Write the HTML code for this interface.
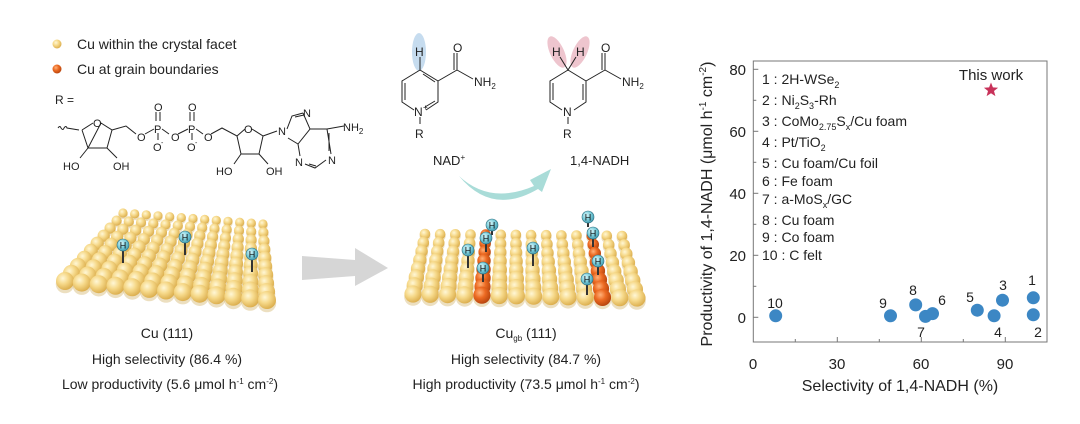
<!DOCTYPE html>
<html><head><meta charset="utf-8"><style>
html,body{margin:0;padding:0;background:#fff;}
svg{display:block;font-family:"Liberation Sans",sans-serif;}
</style></head><body>
<svg id="s" width="1080" height="424" viewBox="0 0 1080 424" xmlns="http://www.w3.org/2000/svg">
<defs>
<radialGradient id="gy" cx="0.38" cy="0.35" r="0.7">
<stop offset="0" stop-color="#fff7d6"/><stop offset="0.45" stop-color="#f6d98a"/><stop offset="1" stop-color="#d9aa48"/></radialGradient>
<radialGradient id="go" cx="0.38" cy="0.35" r="0.7">
<stop offset="0" stop-color="#ffb27a"/><stop offset="0.45" stop-color="#ec6a22"/><stop offset="1" stop-color="#b2410c"/></radialGradient>
<radialGradient id="gh" cx="0.38" cy="0.35" r="0.7">
<stop offset="0" stop-color="#d8f6fa"/><stop offset="0.5" stop-color="#7fcfdc"/><stop offset="1" stop-color="#3f9bb0"/></radialGradient>
</defs>

<circle cx="57" cy="44" r="4.5" fill="url(#gy)"/>
<circle cx="57" cy="69" r="4.5" fill="url(#go)"/>
<text x="77" y="49" font-size="14" fill="#222">Cu within the crystal facet</text>
<text x="77" y="74" font-size="14" fill="#222">Cu at grain boundaries</text>
<text x="55" y="104" font-size="12" fill="#222">R =</text>

<g stroke="#222" stroke-width="1" fill="none">
<path d="M58,128 q2,-3 3,0 q2,3 3,0 q2,-3 3,0 l12,2"/>
<path d="M82,130 L93,123 M101,123 L112,130 L107,148 L88,148 Z M82,130 L88,148"/>
<path d="M88,148 L80,158 M107,148 L117,158"/>
<path d="M112,130 L126,126 L136,134"/>
<path d="M145,134 L154,129 M162,129 L169,134 M178,134 L188,129 M196,129 L203,134"/>
<path d="M156,112 V121 M160,112 V121 M190,112 V121 M194,112 V121 M158,133 V140 M192,133 V140"/>
<path d="M211,134 L222,128 L237,136 L245,129 M252,129 L263,136 L259,154 L241,154 L237,136"/>
<path d="M241,154 L234,164 M259,154 L268,164"/>
<path d="M263,136 L277,131"/>
<path d="M287,129 L292,116 L303,113 M288,138 L298,144 L310,129 L303,113 M295,117 L304,115"/>
<path d="M298,144 L300,156 M305,164 L315,168 L326,160 M310,129 L327,129 L331,154 M329,133 L329,151 M327,129 L344,126 M309,164 L316,166"/>
</g>
<g font-size="11" fill="#222">
<text x="93" y="127">O</text>
<text x="137" y="141">O</text><text x="154" y="133">P</text><text x="154" y="111">O</text><text x="153" y="151">O</text><text x="161" y="145" font-size="7">-</text>
<text x="171" y="141">O</text><text x="188" y="133">P</text><text x="188" y="111">O</text><text x="187" y="151">O</text><text x="195" y="145" font-size="7">-</text>
<text x="204" y="141">O</text>
<text x="244" y="133">O</text>
<text x="278" y="135">N</text>
<text x="303" y="117">N</text>
<text x="295" y="166">N</text>
<text x="328" y="164">N</text>
<text x="343" y="131">NH<tspan font-size="8" dy="3">2</tspan></text>
<text x="63" y="170">HO</text><text x="113" y="170">OH</text>
<text x="216" y="175">HO</text><text x="266" y="175">OH</text>
</g>

<ellipse cx="419" cy="52" rx="7" ry="19" fill="#bcd6ec" opacity="0.85"/>
<g stroke="#222" stroke-width="1" fill="none">
<path d="M420,57 V70 L438,81 V102 L426,110 M414,110 L402,102 V81 L420,70"/>
<path d="M423,74 L435,82 M405,83 V100 M435,101 L425,107"/>
<path d="M438,81 L457,70 V53 M454,70 V53 M457,70 L473,79"/>
<path d="M420,117 V124"/>
</g>
<g font-size="12" fill="#222">
<text x="415" y="56">H</text><text x="453" y="52">O</text>
<text x="474" y="86">NH<tspan font-size="8" dy="3">2</tspan></text>
<text x="414" y="116">N</text><text x="423" y="110" font-size="8">+</text>
<text x="415" y="138">R</text>
<text x="433" y="165" font-size="13">NAD<tspan font-size="8" dy="-5">+</tspan></text>
</g>
<ellipse cx="557" cy="52" rx="7" ry="17" fill="#eab7c2" opacity="0.8" transform="rotate(-25 557 52)"/>
<ellipse cx="580" cy="52" rx="7" ry="17" fill="#eab7c2" opacity="0.8" transform="rotate(25 580 52)"/>
<g stroke="#222" stroke-width="1" fill="none">
<path d="M560,57 L568,70 L576,57 M568,70 L586,81 V102 L574,110 M562,110 L550,102 V81 L568,70"/>
<path d="M553,83 V100 M583,84 V100"/>
<path d="M586,81 L605,70 V53 M602,70 V53 M605,70 L621,79"/>
<path d="M568,117 V124"/>
</g>
<g font-size="12" fill="#222">
<text x="552" y="56">H</text><text x="576" y="56">H</text><text x="601" y="52">O</text>
<text x="622" y="86">NH<tspan font-size="8" dy="3">2</tspan></text>
<text x="563" y="116">N</text>
<text x="563" y="138">R</text>
<text x="570" y="165" font-size="13">1,4-NADH</text>
</g>
<path d="M459,176 Q490,205 534,186 L530,180 L551,169 L542,192 L538,189 Q492,216 459,176 Z" fill="#a9dcd8"/>

<path d="M302,256 L355,260 L355,248 L388,268 L355,286 L355,276 L302,280 Z" fill="#d6d6d6"/>

<g id="slabs"></g>

<g font-size="14" fill="#222" text-anchor="middle">
<text x="167" y="338">Cu (111)</text>
<text x="167" y="364">High selectivity (86.4 %)</text>
<text x="170" y="389">Low productivity (5.6 μmol h<tspan font-size="8" dy="-5">-1</tspan><tspan dy="5"> cm</tspan><tspan font-size="8" dy="-5">-2</tspan><tspan dy="5">)</tspan></text>
<text x="526" y="338">Cu<tspan font-size="8" dy="3">gb</tspan><tspan dy="-3"> (111)</tspan></text>
<text x="526" y="364">High selectivity (84.7 %)</text>
<text x="526" y="389">High productivity (73.5 μmol h<tspan font-size="8" dy="-5">-1</tspan><tspan dy="5"> cm</tspan><tspan font-size="8" dy="-5">-2</tspan><tspan dy="5">)</tspan></text>
</g>

<rect x="753.3" y="61" width="293.7" height="281" fill="none" stroke="#777" stroke-width="1"/>
<g stroke="#777" stroke-width="1">
<line x1="753.3" y1="69.3" x2="758.3" y2="69.3"/><line x1="753.3" y1="131.3" x2="758.3" y2="131.3"/>
<line x1="753.3" y1="193.3" x2="758.3" y2="193.3"/><line x1="753.3" y1="255.3" x2="758.3" y2="255.3"/>
<line x1="753.3" y1="317.3" x2="758.3" y2="317.3"/>
<line x1="753.3" y1="100.3" x2="756.3" y2="100.3"/><line x1="753.3" y1="162.3" x2="756.3" y2="162.3"/>
<line x1="753.3" y1="224.3" x2="756.3" y2="224.3"/><line x1="753.3" y1="286.3" x2="756.3" y2="286.3"/>
<line x1="837.3" y1="342" x2="837.3" y2="337"/><line x1="921.3" y1="342" x2="921.3" y2="337"/>
<line x1="1005.3" y1="342" x2="1005.3" y2="337"/>
<line x1="795.3" y1="342" x2="795.3" y2="339"/><line x1="879.3" y1="342" x2="879.3" y2="339"/>
<line x1="963.3" y1="342" x2="963.3" y2="339"/>
</g>
<g font-size="15" fill="#222" text-anchor="end">
<text x="746" y="75">80</text><text x="746" y="137">60</text><text x="746" y="199">40</text>
<text x="746" y="261">20</text><text x="746" y="323">0</text>
</g>
<g font-size="15" fill="#222" text-anchor="middle">
<text x="753" y="369">0</text><text x="837" y="369">30</text><text x="921" y="369">60</text><text x="1005" y="369">90</text>
<text x="900" y="391" font-size="16">Selectivity of 1,4-NADH (%)</text>
</g>
<text transform="translate(712,204) rotate(-90)" font-size="16" fill="#222" text-anchor="middle">Productivity of 1,4-NADH (μmol h<tspan font-size="10" dy="-6">-1</tspan><tspan dy="6"> cm</tspan><tspan font-size="10" dy="-6">-2</tspan><tspan dy="6">)</tspan></text>
<g font-size="14" fill="#222">
<text x="762" y="84">1 : 2H-WSe<tspan font-size="9" dy="4">2</tspan></text>
<text x="762" y="105">2 : Ni<tspan font-size="9" dy="4">2</tspan><tspan dy="-4">S</tspan><tspan font-size="9" dy="4">3</tspan><tspan dy="-4">-Rh</tspan></text>
<text x="762" y="126">3 : CoMo<tspan font-size="9" dy="4">2.75</tspan><tspan dy="-4">S</tspan><tspan font-size="9" dy="4">x</tspan><tspan dy="-4">/Cu foam</tspan></text>
<text x="762" y="147">4 : Pt/TiO<tspan font-size="9" dy="4">2</tspan></text>
<text x="762" y="168">5 : Cu foam/Cu foil</text>
<text x="762" y="186">6 : Fe foam</text>
<text x="762" y="204">7 : a-MoS<tspan font-size="9" dy="4">x</tspan><tspan dy="-4">/GC</tspan></text>
<text x="762" y="225">8 : Cu foam</text>
<text x="762" y="242">9 : Co foam</text>
<text x="762" y="260">10 : C felt</text>
<text x="991" y="80" font-size="15" text-anchor="middle">This work</text>
</g>
<path id="star" fill="#c8325a" d=""/>
<g fill="#3c87c4">
<circle cx="775.7" cy="315.8" r="6.5"/><circle cx="890.5" cy="315.8" r="6.5"/>
<circle cx="915.7" cy="304.9" r="6.5"/><circle cx="925.5" cy="316.4" r="6.5"/>
<circle cx="932.5" cy="313.6" r="6.5"/><circle cx="977.3" cy="310.2" r="6.5"/>
<circle cx="994.1" cy="315.8" r="6.5"/><circle cx="1002.5" cy="300.2" r="6.5"/>
<circle cx="1033.3" cy="297.8" r="6.5"/><circle cx="1033.3" cy="314.8" r="6.5"/>
</g>
<g font-size="14" fill="#222" text-anchor="middle">
<text x="1032" y="285">1</text><text x="1003" y="290">3</text><text x="970" y="302">5</text>
<text x="942" y="305">6</text><text x="913" y="295">8</text><text x="883" y="308">9</text>
<text x="775" y="308">10</text><text x="921" y="337">7</text><text x="998" y="337">4</text>
<text x="1038" y="337">2</text>
</g>
</svg>
<script>
(function(){
var NS="http://www.w3.org/2000/svg";
var g=document.getElementById("slabs");
function el(n,a,p){var e=document.createElementNS(NS,n);for(var k in a)e.setAttribute(k,a[k]);(p||g).appendChild(e);return e;}
var cx=991,cy=90,R=7.5,r=3.2,d="";
for(var i=0;i<10;i++){var ang=-Math.PI/2+i*Math.PI/5,rr=i%2?r:R;d+=(i?"L":"M")+(cx+rr*Math.cos(ang)).toFixed(1)+","+(cy+rr*Math.sin(ang)).toFixed(1);}
document.getElementById("star").setAttribute("d",d+"Z");
function slab(o){
 for(var i=0;i<o.R;i++){
  var t=i/(o.R-1);
  var xl=o.xlb+t*(o.xlf-o.xlb), xr=o.xrb+t*(o.xrf-o.xrb);
  var yl=o.ylb+t*(o.ylf-o.ylb), yr=o.yrb+t*(o.yrf-o.yrb);
  var rad=o.rb+t*(o.rf-o.rb);
  for(var j=0;j<o.N;j++){
   var s=j/(o.N-1);
   var x=xl+s*(xr-xl), y=yl+s*(yr-yl);
   var orange=o.or&&o.or.indexOf(j)>=0;
   el("circle",{cx:x.toFixed(1),cy:(y+rad*0.35).toFixed(1),r:(rad*1.02).toFixed(1),fill:"#c9a24a",opacity:"0.35"});
   el("circle",{cx:x.toFixed(1),cy:y.toFixed(1),r:rad.toFixed(1),fill:orange?"url(#go)":"url(#gy)"});
  }
 }
}
slab({R:10,N:13,xlb:123,xrb:263,xlf:65,xrf:267,ylb:213,yrb:224,ylf:281,yrf:300,rb:4.6,rf:9});
slab({R:8,N:14,xlb:425,xrb:622,xlf:413,xrf:637,ylb:234,yrb:236,ylf:294,yrf:298,rb:5.3,rf:8.6,or:[4,11]});
function H(x,y,len){
 el("line",{x1:x,y1:y,x2:x,y2:y+len,stroke:"#333","stroke-width":"2"});
 el("circle",{cx:x,cy:y,r:6,fill:"url(#gh)",stroke:"#2f6f80","stroke-width":"0.6"});
 var t=el("text",{x:x,y:y+3.5,"font-size":"9","text-anchor":"middle",fill:"#111"});t.textContent="H";
}
H(123,245,18);H(185,237,18);H(252,254,18);
H(492,225,10);H(486,238,14);H(468,250,18);H(483,268,14);H(533,248,18);
H(588,217,10);H(593,233,14);H(598,261,14);H(587,279,16);
})();
</script>
</body></html>
